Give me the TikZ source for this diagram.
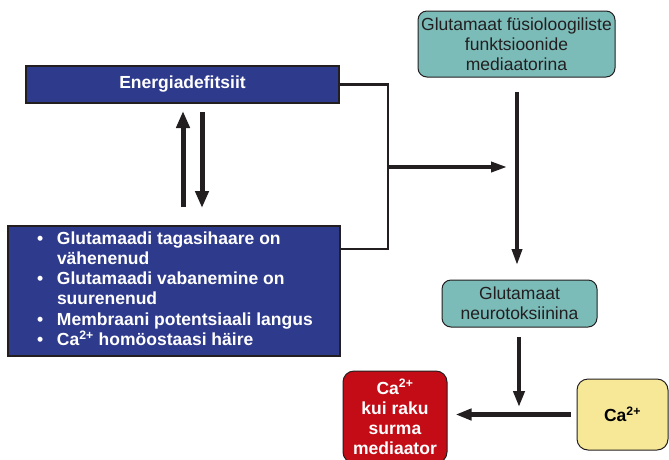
\documentclass[tikz,border=0pt]{standalone}
\usepackage{fontspec}
\setmainfont{Liberation Sans}
\usetikzlibrary{arrows.meta}
\definecolor{dblue}{RGB}{46,58,140}
\definecolor{teal2}{RGB}{123,187,184}
\definecolor{red2}{RGB}{196,12,22}
\definecolor{yel2}{RGB}{247,232,151}
\definecolor{ink}{RGB}{35,31,32}
\newcommand\bul{\makebox[20pt][l]{\textbullet}}
\begin{document}
\begin{tikzpicture}[x=1pt,y=-1pt,
  every node/.style={font=\fontsize{17.5}{20.2}\selectfont},
  bluebox/.style={draw=ink,line width=2pt,fill=dblue,text=white,font=\fontsize{17.5}{20.2}\selectfont\bfseries,inner sep=0pt},
  tealbox/.style={draw=ink,line width=1pt,fill=teal2,text=ink,rounded corners=9pt,align=center,inner sep=0pt},
  redbox/.style={draw=ink,line width=1pt,fill=red2,text=white,rounded corners=11pt,align=center,inner sep=0pt,font=\fontsize{17.5}{20.2}\selectfont\bfseries},
  yelbox/.style={draw=ink,line width=1pt,fill=yel2,text=black,rounded corners=11pt,align=center,inner sep=0pt,font=\fontsize{17.5}{20.2}\selectfont\bfseries},
  bigarrow/.style={draw=ink,line width=5pt,-{Triangle[length=17pt,width=13pt]}},
  midarrow/.style={draw=ink,line width=4.5pt,-{Triangle[length=16pt,width=11pt]}},
  thinarrow/.style={draw=ink,line width=3.6pt,-{Triangle[length=16pt,width=10pt]}},
  bracket/.style={draw=ink,line width=2.5pt}]
\useasboundingbox (0,0) rectangle (669,459);
\node[bluebox,minimum width=313pt,minimum height=37pt] (energy) at (182.5,84.5) {Energiadefitsiit};
\node[bluebox,minimum width=332pt,minimum height=130pt] (defs) at (174,291) {\raisebox{-3pt}{\makebox[274pt][l]{\renewcommand\arraystretch{1}\begin{tabular}{@{}l@{}}
\bul Glutamaadi tagasihaare on\\
\hspace*{20pt}vähenenud\\
\bul Glutamaadi vabanemine on\\
\hspace*{20pt}suurenenud\\
\bul Membraani potentsiaali langus\\
\bul Ca\textsuperscript{2+} homöostaasi häire
\end{tabular}}}};
\node[tealbox,minimum width=197pt,minimum height=66pt] (fys) at (516.5,44) {Glutamaat füsioloogiliste\\funktsioonide\\mediaatorina};
\node[tealbox,minimum width=155pt,minimum height=47pt] (neuro) at (519.5,303.5) {Glutamaat\\neurotoksiinina};
\node[redbox,minimum width=104pt,minimum height=92pt] (death) at (395,417) {Ca\textsuperscript{2+}\\kui raku\\surma\\mediaator};
\node[yelbox,minimum width=91pt,minimum height=71pt] (ca) at (622.5,414.5) {Ca\textsuperscript{2+}};
% up / down arrows
\coordinate (u1) at (183,207);
\coordinate (u2) at (183,111);
\coordinate (d1) at (202,112);
\coordinate (d2) at (202,208);
\draw[bigarrow] (u1) -- (u2);
\draw[bigarrow] (d1) -- (d2);
% bracket
\coordinate (bk) at (388,249);
\coordinate (mid) at (388,167);
\coordinate (midend) at (507,167);
\draw[bracket] (energy.east) -| (bk) -- (bk -| defs.east);
\draw[thinarrow] (mid) -- (midend);
% vertical arrows
\coordinate (v1) at (517,92);
\coordinate (v2) at (517,265);
\draw[thinarrow] (v1) -- (v2);
\coordinate (w1) at (519,337);
\coordinate (w2) at (519,407);
\draw[midarrow] (w1) -- (w2);
\draw[midarrow] ([xshift=-6pt]ca.west) -- ([xshift=8pt]death.east |- ca.west);
\end{tikzpicture}
\end{document}
